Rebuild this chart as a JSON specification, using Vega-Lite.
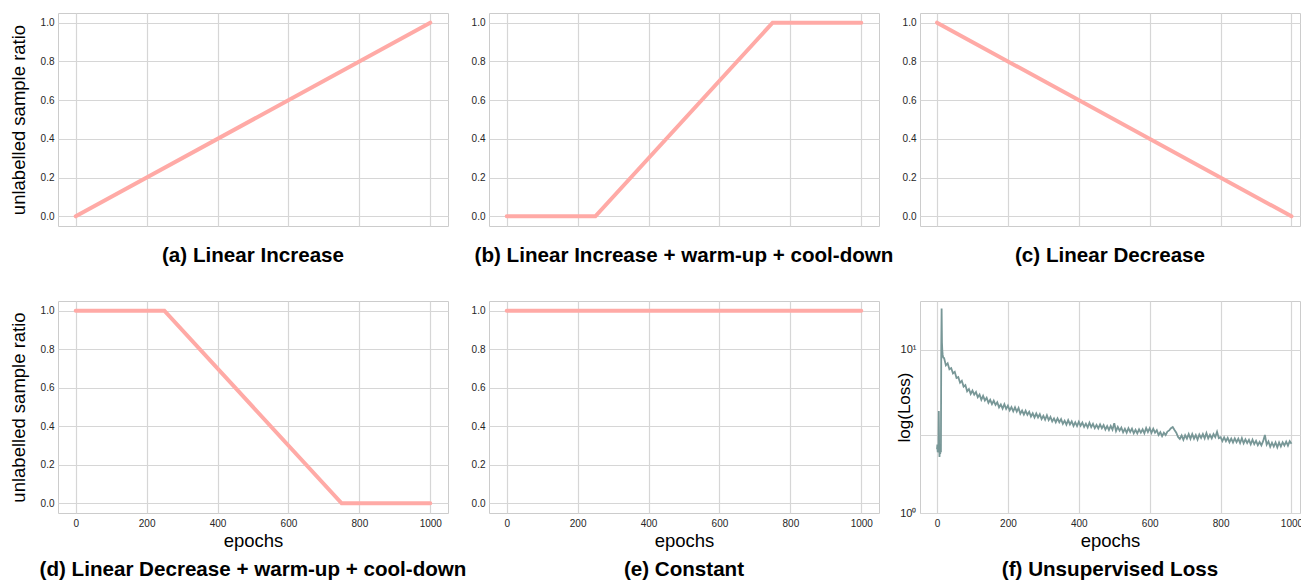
{
  "$schema": "https://vega.github.io/schema/vega-lite/v6.json",
  "background": "white",
  "padding": {"left": 8, "top": 12, "right": 0, "bottom": 0},
  "config": {
    "font": "Liberation Sans",
    "view": {"stroke": "#cccccc", "strokeWidth": 1},
    "axis": {
      "grid": true, "gridColor": "#d6d6d6", "gridWidth": 1.2,
      "domain": false, "ticks": false, "tickSize": 0,
      "labelFontSize": 10, "labelColor": "#262626", "labelPadding": 4,
      "titleFontSize": 18.5, "titleFontWeight": "normal", "titleColor": "#000000"
    },
    "title": {"orient": "bottom", "fontSize": 20.6, "fontWeight": "bold", "color": "#000000", "anchor": "middle"}
  },
  "datasets": {
    "a": [{"epoch": 0, "ratio": 0}, {"epoch": 1000, "ratio": 1}],
    "b": [{"epoch": 0, "ratio": 0}, {"epoch": 250, "ratio": 0}, {"epoch": 750, "ratio": 1}, {"epoch": 1000, "ratio": 1}],
    "c": [{"epoch": 0, "ratio": 1}, {"epoch": 1000, "ratio": 0}],
    "d": [{"epoch": 0, "ratio": 1}, {"epoch": 250, "ratio": 1}, {"epoch": 750, "ratio": 0}, {"epoch": 1000, "ratio": 0}],
    "e": [{"epoch": 0, "ratio": 1}, {"epoch": 1000, "ratio": 1}],
    "loss": [
      {"epoch":0,"loss":2.45},{"epoch":1,"loss":2.62},{"epoch":2,"loss":2.35},{"epoch":3,"loss":2.55},{"epoch":4,"loss":2.4},{"epoch":5,"loss":4.2},{"epoch":6,"loss":2.6},{"epoch":7,"loss":2.2},{"epoch":8,"loss":2.45},{"epoch":9,"loss":2.3},{"epoch":10,"loss":2.5},{"epoch":11,"loss":2.35},{"epoch":12,"loss":10.5},{"epoch":13,"loss":17.8},{"epoch":14,"loss":11.0},{"epoch":15,"loss":9.8},{"epoch":16,"loss":9.3},{"epoch":17,"loss":9.0},{"epoch":18,"loss":8.9},
      {"epoch":20,"loss":8.87},{"epoch":25,"loss":8.0},{"epoch":30,"loss":8.24},{"epoch":35,"loss":7.57},{"epoch":40,"loss":7.7},{"epoch":45,"loss":7.15},{"epoch":50,"loss":7.31},{"epoch":55,"loss":6.69},{"epoch":60,"loss":6.78},{"epoch":65,"loss":6.26},{"epoch":70,"loss":6.44},{"epoch":75,"loss":5.93},{"epoch":80,"loss":6.06},{"epoch":85,"loss":5.55},{"epoch":90,"loss":5.73},{"epoch":95,"loss":5.35},{"epoch":100,"loss":5.61},
      {"epoch":105,"loss":5.29},{"epoch":110,"loss":5.49},{"epoch":115,"loss":5.11},{"epoch":120,"loss":5.3},{"epoch":125,"loss":4.92},{"epoch":130,"loss":5.2},{"epoch":135,"loss":4.88},{"epoch":140,"loss":5.07},{"epoch":145,"loss":4.72},{"epoch":150,"loss":4.92},{"epoch":155,"loss":4.63},{"epoch":160,"loss":4.86},{"epoch":165,"loss":4.58},{"epoch":170,"loss":4.76},{"epoch":175,"loss":4.43},{"epoch":180,"loss":4.61},{"epoch":185,"loss":4.35},{"epoch":190,"loss":4.63},{"epoch":195,"loss":4.33},{"epoch":200,"loss":4.53},
      {"epoch":205,"loss":4.24},{"epoch":210,"loss":4.44},{"epoch":215,"loss":4.19},{"epoch":220,"loss":4.43},{"epoch":225,"loss":4.17},{"epoch":230,"loss":4.39},{"epoch":235,"loss":4.05},{"epoch":240,"loss":4.23},{"epoch":245,"loss":4.0},{"epoch":250,"loss":4.22},{"epoch":255,"loss":3.99},{"epoch":260,"loss":4.16},{"epoch":265,"loss":3.89},{"epoch":270,"loss":4.07},{"epoch":275,"loss":3.84},{"epoch":280,"loss":4.06},{"epoch":285,"loss":3.84},{"epoch":290,"loss":4.02},{"epoch":295,"loss":3.75},{"epoch":300,"loss":3.93},
      {"epoch":305,"loss":3.72},{"epoch":310,"loss":3.96},{"epoch":315,"loss":3.7},{"epoch":320,"loss":3.87},{"epoch":325,"loss":3.63},{"epoch":330,"loss":3.79},{"epoch":335,"loss":3.59},{"epoch":340,"loss":3.79},{"epoch":345,"loss":3.59},{"epoch":350,"loss":3.75},{"epoch":355,"loss":3.51},{"epoch":360,"loss":3.67},{"epoch":365,"loss":3.47},{"epoch":370,"loss":3.7},{"epoch":375,"loss":3.48},{"epoch":380,"loss":3.64},{"epoch":385,"loss":3.41},{"epoch":390,"loss":3.59},{"epoch":395,"loss":3.4},{"epoch":400,"loss":3.61},
      {"epoch":405,"loss":3.42},{"epoch":410,"loss":3.57},{"epoch":415,"loss":3.36},{"epoch":420,"loss":3.52},{"epoch":425,"loss":3.34},{"epoch":430,"loss":3.57},{"epoch":435,"loss":3.35},{"epoch":440,"loss":3.51},{"epoch":445,"loss":3.3},{"epoch":450,"loss":3.46},{"epoch":455,"loss":3.29},{"epoch":460,"loss":3.48},{"epoch":465,"loss":3.3},{"epoch":470,"loss":3.45},{"epoch":475,"loss":3.24},{"epoch":480,"loss":3.4},{"epoch":485,"loss":3.22},{"epoch":490,"loss":3.41},{"epoch":495,"loss":3.23},{"epoch":500,"loss":3.54},
      {"epoch":505,"loss":3.17},{"epoch":510,"loss":3.36},{"epoch":515,"loss":3.19},{"epoch":520,"loss":3.33},{"epoch":525,"loss":3.12},{"epoch":530,"loss":3.27},{"epoch":535,"loss":3.1},{"epoch":540,"loss":3.3},{"epoch":545,"loss":3.13},{"epoch":550,"loss":3.28},{"epoch":555,"loss":3.07},{"epoch":560,"loss":3.23},{"epoch":565,"loss":3.07},{"epoch":570,"loss":3.25},{"epoch":575,"loss":3.1},{"epoch":580,"loss":3.25},{"epoch":585,"loss":3.07},{"epoch":590,"loss":3.31},{"epoch":595,"loss":3.13},{"epoch":600,"loss":3.3},
      {"epoch":605,"loss":3.09},{"epoch":610,"loss":3.28},{"epoch":615,"loss":3.1},{"epoch":620,"loss":3.21},{"epoch":625,"loss":3.0},{"epoch":630,"loss":3.12},{"epoch":635,"loss":2.95},{"epoch":640,"loss":3.1},{"epoch":645,"loss":3.0},{"epoch":650,"loss":3.15},{"epoch":655,"loss":3.2},{"epoch":660,"loss":3.3},{"epoch":665,"loss":3.36},{"epoch":670,"loss":3.22},{"epoch":675,"loss":3.1},{"epoch":680,"loss":2.92},{"epoch":685,"loss":2.84},{"epoch":690,"loss":2.98},{"epoch":695,"loss":2.8},{"epoch":700,"loss":2.99},
      {"epoch":705,"loss":2.85},{"epoch":710,"loss":3.04},{"epoch":715,"loss":2.84},{"epoch":720,"loss":3.04},{"epoch":725,"loss":2.85},{"epoch":730,"loss":3.0},{"epoch":735,"loss":2.81},{"epoch":740,"loss":3.02},{"epoch":745,"loss":2.88},{"epoch":750,"loss":3.04},{"epoch":755,"loss":2.86},{"epoch":760,"loss":3.08},{"epoch":765,"loss":2.86},{"epoch":770,"loss":3.01},{"epoch":775,"loss":2.86},{"epoch":780,"loss":3.04},{"epoch":785,"loss":2.91},{"epoch":790,"loss":3.14},{"epoch":795,"loss":2.87},{"epoch":800,"loss":2.91},
      {"epoch":805,"loss":2.75},{"epoch":810,"loss":2.9},{"epoch":815,"loss":2.75},{"epoch":820,"loss":2.88},{"epoch":825,"loss":2.71},{"epoch":830,"loss":2.85},{"epoch":835,"loss":2.7},{"epoch":840,"loss":2.86},{"epoch":845,"loss":2.71},{"epoch":850,"loss":2.85},{"epoch":855,"loss":2.68},{"epoch":860,"loss":2.87},{"epoch":865,"loss":2.67},{"epoch":870,"loss":2.82},{"epoch":875,"loss":2.68},{"epoch":880,"loss":2.8},{"epoch":885,"loss":2.63},{"epoch":890,"loss":2.81},{"epoch":895,"loss":2.64},{"epoch":900,"loss":2.76},
      {"epoch":905,"loss":2.6},{"epoch":910,"loss":2.72},{"epoch":915,"loss":2.59},{"epoch":920,"loss":2.75},{"epoch":925,"loss":3.0},{"epoch":930,"loss":2.62},{"epoch":935,"loss":2.74},{"epoch":940,"loss":2.54},{"epoch":945,"loss":2.69},{"epoch":950,"loss":2.55},{"epoch":955,"loss":2.7},{"epoch":960,"loss":2.52},{"epoch":965,"loss":2.7},{"epoch":970,"loss":2.55},{"epoch":975,"loss":2.71},{"epoch":980,"loss":2.59},{"epoch":985,"loss":2.73},{"epoch":990,"loss":2.58},{"epoch":995,"loss":2.75},{"epoch":1000,"loss":2.65}
    ]
  },
  "bounds": "flush",
  "spacing": {"row": 75, "column": 41},
  "columns": 3,
  "concat": [
    {
      "width": 390, "height": 213,
      "data": {"name": "a"},
      "title": {"text": "(a) Linear Increase", "offset": 20},
      "mark": {"type": "line", "color": "#ffaaa6", "strokeWidth": 4, "strokeCap": "round"},
      "encoding": {
        "x": {"field": "epoch", "type": "quantitative", "scale": {"domain": [-50, 1050], "nice": false, "zero": false}, "axis": {"values": [0, 200, 400, 600, 800, 1000], "labels": false, "title": null}},
        "y": {"field": "ratio", "type": "quantitative", "scale": {"domain": [-0.05, 1.05], "nice": false, "zero": false}, "axis": {"values": [0, 0.2, 0.4, 0.6, 0.8, 1.0], "format": ".1f", "title": "unlabelled sample ratio", "titlePadding": 12}}
      }
    },
    {
      "width": 390, "height": 213,
      "data": {"name": "b"},
      "title": {"text": "(b) Linear Increase + warm-up + cool-down", "offset": 20},
      "mark": {"type": "line", "color": "#ffaaa6", "strokeWidth": 4, "strokeCap": "round"},
      "encoding": {
        "x": {"field": "epoch", "type": "quantitative", "scale": {"domain": [-50, 1050], "nice": false, "zero": false}, "axis": {"values": [0, 200, 400, 600, 800, 1000], "labels": false, "title": null}},
        "y": {"field": "ratio", "type": "quantitative", "scale": {"domain": [-0.05, 1.05], "nice": false, "zero": false}, "axis": {"values": [0, 0.2, 0.4, 0.6, 0.8, 1.0], "format": ".1f", "title": null}}
      }
    },
    {
      "width": 380, "height": 213,
      "data": {"name": "c"},
      "title": {"text": "(c) Linear Decrease", "offset": 20},
      "mark": {"type": "line", "color": "#ffaaa6", "strokeWidth": 4, "strokeCap": "round"},
      "encoding": {
        "x": {"field": "epoch", "type": "quantitative", "scale": {"domain": [-48, 1024], "nice": false, "zero": false}, "axis": {"values": [0, 200, 400, 600, 800, 1000], "labels": false, "title": null}},
        "y": {"field": "ratio", "type": "quantitative", "scale": {"domain": [-0.05, 1.05], "nice": false, "zero": false}, "axis": {"values": [0, 0.2, 0.4, 0.6, 0.8, 1.0], "format": ".1f", "title": null}}
      }
    },
    {
      "width": 390, "height": 212,
      "data": {"name": "d"},
      "title": {"text": "(d) Linear Decrease + warm-up + cool-down", "offset": 10},
      "mark": {"type": "line", "color": "#ffaaa6", "strokeWidth": 4, "strokeCap": "round"},
      "encoding": {
        "x": {"field": "epoch", "type": "quantitative", "scale": {"domain": [-50, 1050], "nice": false, "zero": false}, "axis": {"values": [0, 200, 400, 600, 800, 1000], "format": "d", "title": "epochs", "labelPadding": 5, "titlePadding": 3}},
        "y": {"field": "ratio", "type": "quantitative", "scale": {"domain": [-0.05, 1.05], "nice": false, "zero": false}, "axis": {"values": [0, 0.2, 0.4, 0.6, 0.8, 1.0], "format": ".1f", "title": "unlabelled sample ratio", "titlePadding": 12}}
      }
    },
    {
      "width": 390, "height": 212,
      "data": {"name": "e"},
      "title": {"text": "(e) Constant", "offset": 10},
      "mark": {"type": "line", "color": "#ffaaa6", "strokeWidth": 4, "strokeCap": "round"},
      "encoding": {
        "x": {"field": "epoch", "type": "quantitative", "scale": {"domain": [-50, 1050], "nice": false, "zero": false}, "axis": {"values": [0, 200, 400, 600, 800, 1000], "format": "d", "title": "epochs", "labelPadding": 5, "titlePadding": 3}},
        "y": {"field": "ratio", "type": "quantitative", "scale": {"domain": [-0.05, 1.05], "nice": false, "zero": false}, "axis": {"values": [0, 0.2, 0.4, 0.6, 0.8, 1.0], "format": ".1f", "title": null}}
      }
    },
    {
      "width": 380, "height": 212,
      "data": {"name": "loss"},
      "title": {"text": "(f) Unsupervised Loss", "offset": 10},
      "mark": {"type": "line", "color": "#789797", "strokeWidth": 1.8},
      "encoding": {
        "x": {"field": "epoch", "type": "quantitative", "scale": {"domain": [-48, 1024], "nice": false, "zero": false}, "axis": {"values": [0, 200, 400, 600, 800, 1000], "format": "d", "title": "epochs", "labelPadding": 5, "titlePadding": 3}},
        "y": {"field": "loss", "type": "quantitative", "scale": {"type": "log", "domain": [1, 19.8], "nice": false}, "axis": {"values": [1, 3, 10], "labelExpr": "datum.value == 10 ? '10¹' : datum.value == 1 ? '10⁰' : ''", "labelFontSize": 11, "title": "log(Loss)", "titleFontSize": 17, "titlePadding": -14}}
      }
    }
  ]
}
